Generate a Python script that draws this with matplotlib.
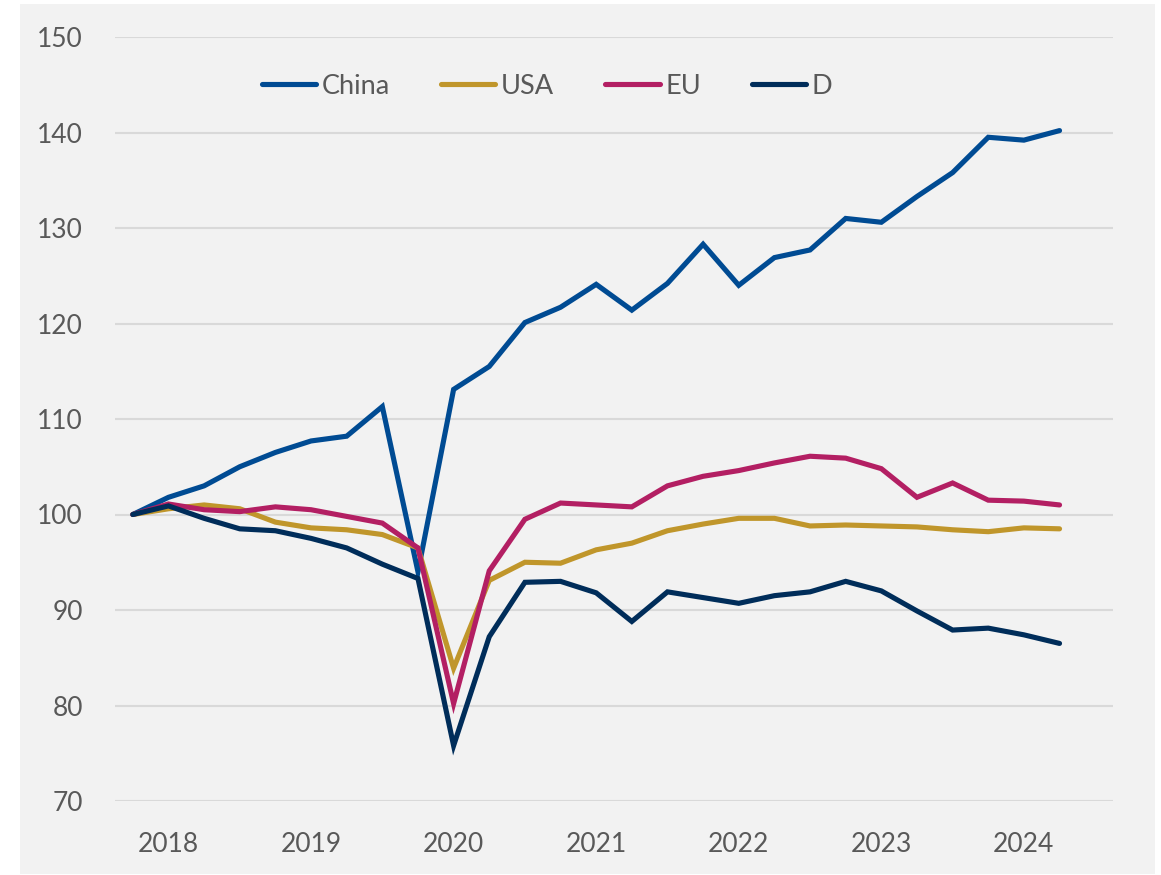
import numpy as np
import matplotlib
matplotlib.use("Agg")
import matplotlib.pyplot as plt
from matplotlib.patches import Rectangle

plt.rcParams['font.family'] = ['Lato', 'DejaVu Sans']

# Quartale 2018Q1 .. 2024Q3, Index 2018Q1 = 100
quartale = [f"{j}Q{q}" for j in range(2018, 2025) for q in range(1, 5)][:27]

china = [100.0, 101.8, 103.0, 105.0, 106.5, 107.7, 108.2, 111.3, 94.0,
         113.1, 115.5, 120.1, 121.7, 124.1, 121.4, 124.2, 128.3, 124.0,
         126.9, 127.7, 131.0, 130.6, 133.3, 135.8, 139.5, 139.2, 140.2]
usa = [100.0, 100.6, 101.0, 100.6, 99.2, 98.6, 98.4, 97.9, 96.5,
       83.9, 93.1, 95.0, 94.9, 96.3, 97.0, 98.3, 99.0, 99.6,
       99.6, 98.8, 98.9, 98.8, 98.7, 98.4, 98.2, 98.6, 98.5]
eu = [100.0, 101.1, 100.5, 100.3, 100.8, 100.5, 99.8, 99.1, 96.5,
      80.2, 94.1, 99.5, 101.2, 101.0, 100.8, 103.0, 104.0, 104.6,
      105.4, 106.1, 105.9, 104.8, 101.8, 103.3, 101.5, 101.4, 101.0]
d = [100.0, 100.9, 99.6, 98.5, 98.3, 97.5, 96.5, 94.8, 93.3,
     75.8, 87.2, 92.9, 93.0, 91.8, 88.8, 91.9, 91.3, 90.7,
     91.5, 91.9, 93.0, 92.0, 89.9, 87.9, 88.1, 87.4, 86.5]

serien = [("China", china, "#004B93"),
          ("USA", usa, "#C0962B"),
          ("EU", eu, "#B31F63"),
          ("D", d, "#002D5A")]

jahre = ["2018", "2019", "2020", "2021", "2022", "2023", "2024"]

fig = plt.figure(figsize=(11.61, 8.75), dpi=100, facecolor="white")
# grauer Hintergrund
fig.patches.append(Rectangle((20/1161, 1/875), 1135/1161, 870/875,
                             transform=fig.transFigure, facecolor="#F2F2F2",
                             edgecolor="none", zorder=-10))

ax = fig.add_axes([115/1161, 1 - 801/875, 998/1161, 764/875])
ax.set_facecolor("none")
ax.set_zorder(1)

x = np.arange(len(quartale))
for name, werte, farbe in serien:
    ax.plot(x, werte, color=farbe, lw=3.7, label=name,
            solid_capstyle="round", solid_joinstyle="miter")

ax.set_xlim(-0.5, 27.5)
ax.set_ylim(70, 150)
ax.set_yticks(range(70, 151, 10))
ax.set_xticks(np.arange(1, 27, 4))
ax.set_xticklabels(jahre)
ax.tick_params(axis="both", length=0, labelsize=19, colors="#595959")
ax.tick_params(axis="y", pad=23)
ax.tick_params(axis="x", pad=22)
ax.grid(axis="y", color="#D9D9D9", lw=1.5)
ax.set_axisbelow(True)
for s in ax.spines.values():
    s.set_visible(False)

leg = ax.legend(loc="center left", bbox_to_anchor=(262/1161, 1 - 86/875),
                bbox_transform=fig.transFigure, ncol=4, frameon=False,
                fontsize=19.5, handlelength=2.0, handletextpad=0.2,
                columnspacing=1.9, borderpad=0, borderaxespad=0,
                labelcolor="#595959")
for h in leg.get_lines():
    h.set_linewidth(3.7)
    h.set_solid_capstyle("round")

fig.savefig("out.png", dpi=100, facecolor=fig.get_facecolor())
